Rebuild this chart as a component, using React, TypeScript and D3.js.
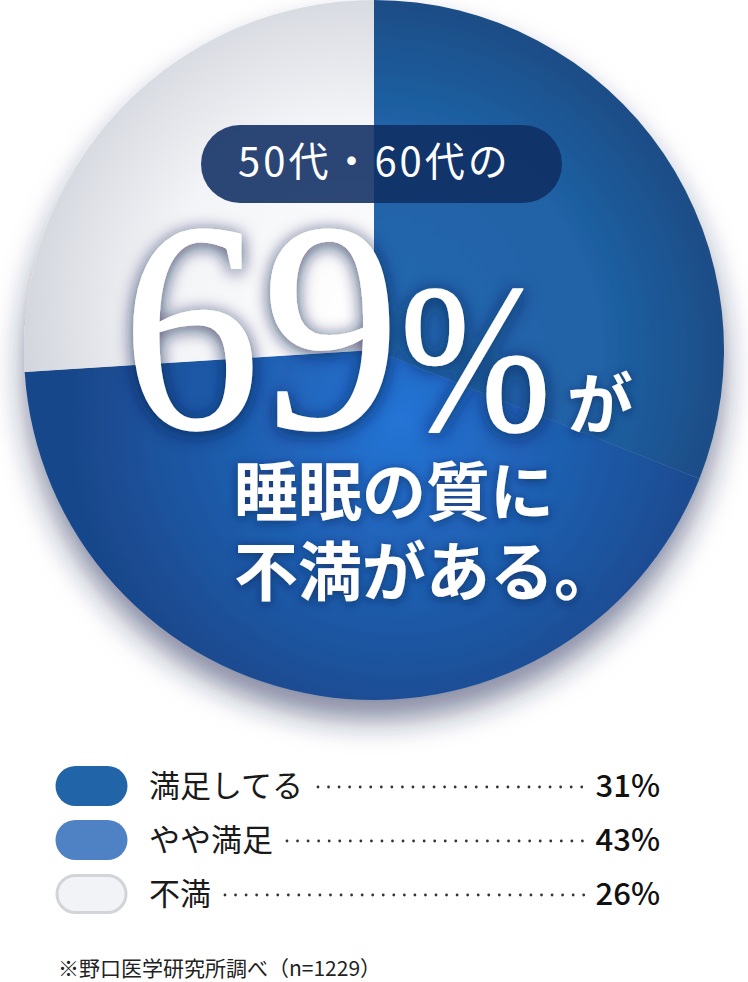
import * as d3 from "d3";

const categories = ["満足してる", "やや満足", "不満"];
const values = [31, 43, 26];
const pctLabels = ["31%", "43%", "26%"];
const badgeText = "50代・60代の";
const bigNumber = "69";
const bigLines = ["睡眠の質に", "不満がある。"];
const footnote = "※野口医学研究所調べ（n=1229）";

const W = 748;
const H = 982;
const cx = 374;
const cy = 350;
const R = 350;

const sliceFill = ["url(#gSat)", "url(#gSome)", "url(#gNot)"];
const swatchFill = ["#2264a8", "#4e82c4", "#f2f3f7"];
const sans = "'Noto Sans CJK JP', 'Noto Sans', sans-serif";
const serif = "'Liberation Serif', 'DejaVu Serif', serif";

export default function App() {
  const pie = d3
    .pie<number>()
    .sort(null)
    .startAngle(0)
    .endAngle(2 * Math.PI)
    .value((d) => d);
  const arcs = pie(values);
  const arc = d3.arc<d3.PieArcDatum<number>>().innerRadius(0).outerRadius(R);

  // legend rows
  const rowY = d3.scaleBand<string>().domain(categories).range([759, 921]);
  const labelX = 149;
  const labelSize = 31;
  const dotsEnd = 585;

  // big digits are set one by one, like the original's loose spacing
  const digitX = [122, 262];

  return (
    <>
      <style>{`body{margin:0;background:#fff}`}</style>
      <svg width={W} height={H} viewBox={`0 0 ${W} ${H}`} style={{ display: "block" }}>
        <defs>
          <filter id="pieShadow" x="-20%" y="-20%" width="140%" height="150%">
            <feDropShadow dx="0" dy="20" stdDeviation="15" floodColor="#1c2c55" floodOpacity="0.55" />
          </filter>
          <filter id="txtShadow" x="-20%" y="-30%" width="140%" height="160%">
            <feDropShadow dx="0" dy="3" stdDeviation="9" floodColor="#0b1d48" floodOpacity="0.8" />
          </filter>
          <filter id="txtShadowSm" x="-10%" y="-30%" width="120%" height="160%">
            <feDropShadow dx="0" dy="2" stdDeviation="5" floodColor="#0b1d48" floodOpacity="0.6" />
          </filter>
          {/* gradients are in the pie group's space (origin at the pie centre) */}
          <radialGradient id="gSat" gradientUnits="userSpaceOnUse" cx={0} cy={0} r={R}>
            <stop offset="0" stopColor="#2368b0" />
            <stop offset="0.65" stopColor="#2062a6" />
            <stop offset="1" stopColor="#1a4d86" />
          </radialGradient>
          <radialGradient id="gSome" gradientUnits="userSpaceOnUse" cx={26} cy={70} r={330}>
            <stop offset="0" stopColor="#2574d6" />
            <stop offset="0.55" stopColor="#1e5cab" />
            <stop offset="1" stopColor="#19478a" />
          </radialGradient>
          <radialGradient id="gNot" gradientUnits="userSpaceOnUse" cx={-20} cy={-40} r={R}>
            <stop offset="0" stopColor="#ffffff" />
            <stop offset="0.55" stopColor="#f3f4f7" />
            <stop offset="1" stopColor="#cfd2da" />
          </radialGradient>
        </defs>

        <g transform={`translate(${cx},${cy})`} filter="url(#pieShadow)">
          {arcs.map((a, i) => (
            <path key={categories[i]} d={arc(a) ?? ""} fill={sliceFill[i]} />
          ))}
        </g>

        {/* badge */}
        <rect x={201} y={125} width={361} height={78} rx={39} fill="#0f2d62" opacity={0.88} />
        <text
          x={238}
          y={176}
          fill="#fff"
          fontFamily={sans}
          fontSize={40}
          letterSpacing={3}
        >
          {badgeText}
        </text>

        {/* headline */}
        <g
          filter="url(#txtShadow)"
          fill="#fff"
          stroke="#fff"
          strokeWidth={1.5}
          strokeLinejoin="round"
          fontFamily={serif}
        >
          {bigNumber.split("").map((ch, i) => (
            <text
              key={i}
              transform={`translate(${digitX[i]},428) scale(0.92,1)`}
              fontSize={300}
            >
              {ch}
            </text>
          ))}
          <text transform="translate(400,430) scale(0.85,1)" fontSize={213}>
            %
          </text>
        </g>
        <g filter="url(#txtShadowSm)" fill="#fff" fontFamily={sans} fontWeight={700}>
          <text x={567} y={428} fontSize={66}>
            が
          </text>
          {bigLines.map((t, i) => (
            <text key={t} x={234} y={515 + i * 80} fontSize={64}>
              {t}
            </text>
          ))}
        </g>

        {/* legend */}
        {categories.map((c, i) => {
          const y0 = rowY(c)!;
          const my = y0 + rowY.bandwidth() / 2;
          const dotsStart = labelX + c.length * labelSize + 14;
          const dots = d3.range(dotsStart, dotsEnd, 10.55);
          return (
            <g key={c}>
              <rect
                x={i === 2 ? 57 : 55.5}
                y={my - 20 + (i === 2 ? 1.5 : 0)}
                width={i === 2 ? 69 : 72}
                height={i === 2 ? 37 : 40}
                rx={i === 2 ? 18.5 : 20}
                fill={swatchFill[i]}
                stroke={i === 2 ? "#d3d4d9" : "none"}
                strokeWidth={3}
              />
              <text
                x={labelX}
                y={my + 11}
                fontFamily={sans}
                fontSize={labelSize}
                fill="#1a1a1a"
              >
                {c}
              </text>
              {dots.map((dx) => (
                <circle key={dx} cx={dx} cy={my + 1} r={1.4} fill="#333" />
              ))}
              <text
                x={660}
                y={my + 11}
                textAnchor="end"
                fontFamily={sans}
                fontWeight={500}
                fontSize={31}
                fill="#111"
              >
                {pctLabels[i]}
              </text>
            </g>
          );
        })}

        <text x={58} y={976} fontFamily={sans} fontSize={21} fill="#222">
          {footnote}
        </text>
      </svg>
    </>
  );
}
